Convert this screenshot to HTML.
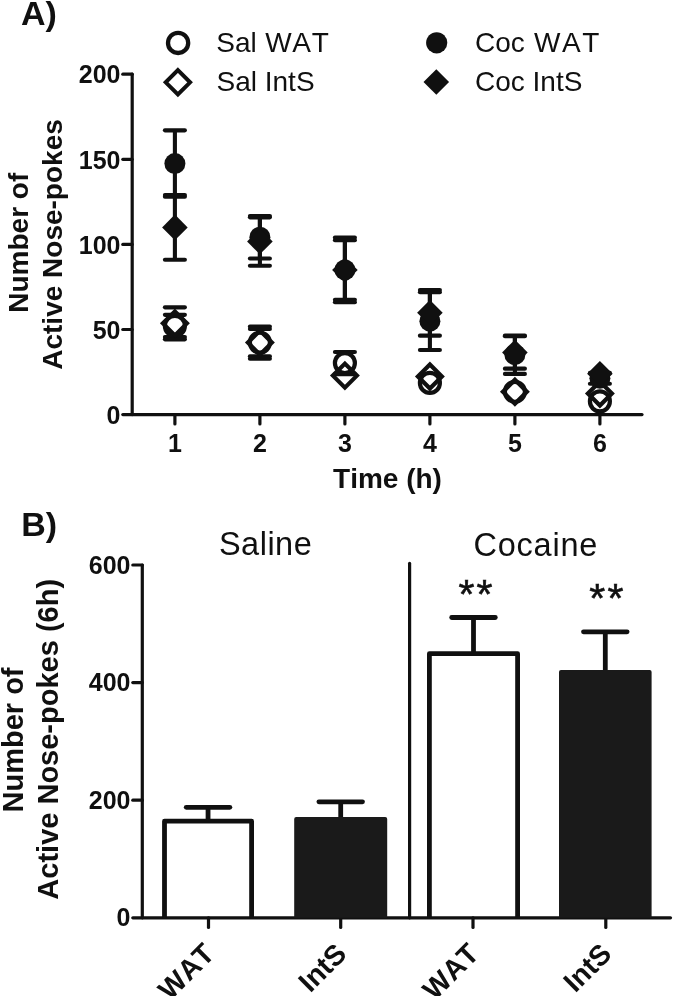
<!DOCTYPE html>
<html><head><meta charset="utf-8"><style>
html,body{margin:0;padding:0;background:#fff;}
svg{display:block;will-change:transform;}
text{font-family:"Liberation Sans", sans-serif;fill:#101010;font-kerning:none;}
</style></head><body>
<svg width="675" height="996" viewBox="0 0 675 996">
<rect width="675" height="996" fill="#fff"/>
<text x="21" y="25" font-size="34" font-weight="bold">A)</text>
<circle cx="178.1" cy="42.9" r="10.1" fill="none" stroke="#101010" stroke-width="4.3"/>
<path d="M177.90,70.10 L190.10,82.30 L177.90,94.50 L165.70,82.30 Z" fill="none" stroke="#101010" stroke-width="4.0" stroke-linejoin="miter"/>
<text x="216.3" y="51.6" font-size="28">Sal<tspan letter-spacing="0.7"> WAT</tspan></text>
<text x="216.5" y="91" font-size="28">Sal IntS</text>
<circle cx="436.7" cy="42.8" r="10.6" fill="#101010"/>
<path d="M436.30,69.20 L449.10,82.00 L436.30,94.80 L423.50,82.00 Z" fill="#101010" stroke="none"/>
<text x="475" y="51.6" font-size="28">Coc<tspan letter-spacing="1.5"> WAT</tspan></text>
<text x="475" y="91" font-size="28">Coc IntS</text>
<g stroke="#101010" stroke-width="3.2" fill="none" stroke-linecap="round">
<line x1="132.2" y1="74.2" x2="132.2" y2="414.6"/>
<line x1="122.8" y1="414.6" x2="642" y2="414.6"/>
<line x1="122.8" y1="74.20" x2="132.2" y2="74.20"/>
<line x1="122.8" y1="159.30" x2="132.2" y2="159.30"/>
<line x1="122.8" y1="244.40" x2="132.2" y2="244.40"/>
<line x1="122.8" y1="329.50" x2="132.2" y2="329.50"/>
<line x1="174.9" y1="414.6" x2="174.9" y2="424"/>
<line x1="259.9" y1="414.6" x2="259.9" y2="424"/>
<line x1="344.9" y1="414.6" x2="344.9" y2="424"/>
<line x1="429.9" y1="414.6" x2="429.9" y2="424"/>
<line x1="514.9" y1="414.6" x2="514.9" y2="424"/>
<line x1="599.9" y1="414.6" x2="599.9" y2="424"/>
</g>
<g font-size="25" font-weight="bold" text-anchor="end">
<text x="120.5" y="83.40">200</text>
<text x="120.5" y="168.50">150</text>
<text x="120.5" y="253.60">100</text>
<text x="120.5" y="338.70">50</text>
<text x="120.5" y="423.80">0</text>
</g>
<g font-size="25" font-weight="bold" text-anchor="middle">
<text x="174.9" y="451.6">1</text>
<text x="259.9" y="451.6">2</text>
<text x="344.9" y="451.6">3</text>
<text x="429.9" y="451.6">4</text>
<text x="514.9" y="451.6">5</text>
<text x="599.9" y="451.6">6</text>
</g>
<text x="387.5" y="488.2" font-size="28" font-weight="bold" text-anchor="middle">Time (h)</text>
<g font-size="28" font-weight="bold" text-anchor="middle">
<text transform="translate(28.4,242.7) rotate(-90)">Number of</text>
<text transform="translate(61.6,244.5) rotate(-90)">Active Nose-pokes</text>
</g>
<g stroke="#101010" stroke-width="4.1" fill="none">
<line x1="164.9" y1="314.86" x2="184.9" y2="314.86" stroke-linecap="round"/>
<line x1="164.9" y1="336.99" x2="184.9" y2="336.99" stroke-linecap="round"/>
<line x1="174.9" y1="308.87" x2="174.9" y2="307.37"/>
<line x1="174.9" y1="337.87" x2="174.9" y2="339.37"/>
<line x1="164.9" y1="307.37" x2="184.9" y2="307.37" stroke-linecap="round"/>
<line x1="164.9" y1="339.37" x2="184.9" y2="339.37" stroke-linecap="round"/>
<line x1="259.9" y1="330.51" x2="259.9" y2="326.44"/>
<line x1="259.9" y1="354.71" x2="259.9" y2="358.77"/>
<line x1="249.89999999999998" y1="326.44" x2="269.9" y2="326.44" stroke-linecap="round"/>
<line x1="249.89999999999998" y1="358.77" x2="269.9" y2="358.77" stroke-linecap="round"/>
<line x1="249.89999999999998" y1="328.99" x2="269.9" y2="328.99" stroke-linecap="round"/>
<line x1="249.89999999999998" y1="356.22" x2="269.9" y2="356.22" stroke-linecap="round"/>
<line x1="334.9" y1="351.97" x2="354.9" y2="351.97" stroke-linecap="round"/>
<line x1="334.9" y1="374.09" x2="354.9" y2="374.09" stroke-linecap="round"/>







</g>
<circle cx="174.9" cy="325.93" r="10.0" fill="none" stroke="#101010" stroke-width="4.2"/>
<path d="M174.90,311.37 L186.90,323.37 L174.90,335.37 L162.90,323.37 Z" fill="none" stroke="#101010" stroke-width="4.2" stroke-linejoin="miter"/>
<circle cx="259.9" cy="342.61" r="10.0" fill="none" stroke="#101010" stroke-width="4.2"/>
<path d="M259.90,330.61 L271.90,342.61 L259.90,354.61 L247.90,342.61 Z" fill="none" stroke="#101010" stroke-width="4.2" stroke-linejoin="miter"/>
<circle cx="344.9" cy="363.03" r="10.0" fill="none" stroke="#101010" stroke-width="4.2"/>
<path d="M344.90,363.62 L356.90,375.62 L344.90,387.62 L332.90,375.62 Z" fill="none" stroke="#101010" stroke-width="4.2" stroke-linejoin="miter"/>
<circle cx="429.9" cy="382.94" r="10.0" fill="none" stroke="#101010" stroke-width="4.2"/>
<path d="M429.90,364.48 L441.90,376.48 L429.90,388.48 L417.90,376.48 Z" fill="none" stroke="#101010" stroke-width="4.2" stroke-linejoin="miter"/>
<circle cx="514.9" cy="391.79" r="10.0" fill="none" stroke="#101010" stroke-width="4.2"/>
<path d="M514.90,379.79 L526.90,391.79 L514.90,403.79 L502.90,391.79 Z" fill="none" stroke="#101010" stroke-width="4.2" stroke-linejoin="miter"/>
<circle cx="599.9" cy="401.32" r="10.0" fill="none" stroke="#101010" stroke-width="4.2"/>
<path d="M599.90,381.50 L611.90,393.50 L599.90,405.50 L587.90,393.50 Z" fill="none" stroke="#101010" stroke-width="4.2" stroke-linejoin="miter"/>
<g stroke="#101010" stroke-width="4.1" fill="none">
<line x1="174.9" y1="163.56" x2="174.9" y2="130.37"/>
<line x1="174.9" y1="163.56" x2="174.9" y2="196.74"/>
<line x1="164.9" y1="130.37" x2="184.9" y2="130.37" stroke-linecap="round"/>
<line x1="164.9" y1="196.74" x2="184.9" y2="196.74" stroke-linecap="round"/>
<line x1="174.9" y1="227.38" x2="174.9" y2="195.04"/>
<line x1="174.9" y1="227.38" x2="174.9" y2="259.72"/>
<line x1="164.9" y1="195.04" x2="184.9" y2="195.04" stroke-linecap="round"/>
<line x1="164.9" y1="259.72" x2="184.9" y2="259.72" stroke-linecap="round"/>
<line x1="259.9" y1="237.25" x2="259.9" y2="215.98"/>
<line x1="259.9" y1="237.25" x2="259.9" y2="258.53"/>
<line x1="249.89999999999998" y1="215.98" x2="269.9" y2="215.98" stroke-linecap="round"/>
<line x1="249.89999999999998" y1="258.53" x2="269.9" y2="258.53" stroke-linecap="round"/>
<line x1="259.9" y1="241.51" x2="259.9" y2="217.34"/>
<line x1="259.9" y1="241.51" x2="259.9" y2="265.68"/>
<line x1="249.89999999999998" y1="217.34" x2="269.9" y2="217.34" stroke-linecap="round"/>
<line x1="249.89999999999998" y1="265.68" x2="269.9" y2="265.68" stroke-linecap="round"/>
<line x1="344.9" y1="269.93" x2="344.9" y2="237.59"/>
<line x1="344.9" y1="269.93" x2="344.9" y2="302.27"/>
<line x1="334.9" y1="237.59" x2="354.9" y2="237.59" stroke-linecap="round"/>
<line x1="334.9" y1="302.27" x2="354.9" y2="302.27" stroke-linecap="round"/>
<line x1="344.9" y1="269.93" x2="344.9" y2="240.15"/>
<line x1="344.9" y1="269.93" x2="344.9" y2="299.72"/>
<line x1="334.9" y1="240.15" x2="354.9" y2="240.15" stroke-linecap="round"/>
<line x1="334.9" y1="299.72" x2="354.9" y2="299.72" stroke-linecap="round"/>
<line x1="429.9" y1="321.16" x2="429.9" y2="292.31"/>
<line x1="429.9" y1="321.16" x2="429.9" y2="350.01"/>
<line x1="419.9" y1="292.31" x2="439.9" y2="292.31" stroke-linecap="round"/>
<line x1="419.9" y1="350.01" x2="439.9" y2="350.01" stroke-linecap="round"/>
<line x1="429.9" y1="312.82" x2="429.9" y2="290.01"/>
<line x1="429.9" y1="312.82" x2="429.9" y2="335.63"/>
<line x1="419.9" y1="290.01" x2="439.9" y2="290.01" stroke-linecap="round"/>
<line x1="419.9" y1="335.63" x2="439.9" y2="335.63" stroke-linecap="round"/>
<line x1="514.9" y1="354.69" x2="514.9" y2="335.46"/>
<line x1="514.9" y1="354.69" x2="514.9" y2="373.92"/>
<line x1="504.9" y1="335.46" x2="524.9" y2="335.46" stroke-linecap="round"/>
<line x1="504.9" y1="373.92" x2="524.9" y2="373.92" stroke-linecap="round"/>
<line x1="514.9" y1="352.48" x2="514.9" y2="336.31"/>
<line x1="514.9" y1="352.48" x2="514.9" y2="368.65"/>
<line x1="504.9" y1="336.31" x2="524.9" y2="336.31" stroke-linecap="round"/>
<line x1="504.9" y1="368.65" x2="524.9" y2="368.65" stroke-linecap="round"/>
<line x1="599.9" y1="378.35" x2="599.9" y2="372.90"/>
<line x1="599.9" y1="378.35" x2="599.9" y2="383.79"/>
<line x1="589.9" y1="372.90" x2="609.9" y2="372.90" stroke-linecap="round"/>
<line x1="589.9" y1="383.79" x2="609.9" y2="383.79" stroke-linecap="round"/>

</g>
<circle cx="174.9" cy="163.56" r="10.5" fill="#101010" stroke="none"/>
<path d="M174.90,214.58 L187.70,227.38 L174.90,240.18 L162.10,227.38 Z" fill="#101010" stroke="none"/>
<circle cx="259.9" cy="237.25" r="10.5" fill="#101010" stroke="none"/>
<path d="M259.90,228.71 L272.70,241.51 L259.90,254.31 L247.10,241.51 Z" fill="#101010" stroke="none"/>
<circle cx="344.9" cy="269.93" r="10.5" fill="#101010" stroke="none"/>
<path d="M344.90,257.13 L357.70,269.93 L344.90,282.73 L332.10,269.93 Z" fill="#101010" stroke="none"/>
<circle cx="429.9" cy="321.16" r="10.5" fill="#101010" stroke="none"/>
<path d="M429.90,300.02 L442.70,312.82 L429.90,325.62 L417.10,312.82 Z" fill="#101010" stroke="none"/>
<circle cx="514.9" cy="354.69" r="10.5" fill="#101010" stroke="none"/>
<path d="M514.90,339.68 L527.70,352.48 L514.90,365.28 L502.10,352.48 Z" fill="#101010" stroke="none"/>
<circle cx="599.9" cy="378.35" r="10.5" fill="#101010" stroke="none"/>
<path d="M599.90,360.95 L612.70,373.75 L599.90,386.55 L587.10,373.75 Z" fill="#101010" stroke="none"/>
<text x="21.3" y="536" font-size="34" font-weight="bold">B)</text>
<text x="265.6" y="555.3" font-size="32.5" letter-spacing="0.5" text-anchor="middle">Saline</text>
<text x="535.8" y="556" font-size="32.5" letter-spacing="0.8" text-anchor="middle">Cocaine</text>
<g stroke="#101010" stroke-width="3.2" fill="none" stroke-linecap="round">
<line x1="142.3" y1="565.0" x2="142.3" y2="917.8"/>
<line x1="132.8" y1="917.8" x2="670.5" y2="917.8"/>
<line x1="132.8" y1="565.00" x2="142.3" y2="565.00"/>
<line x1="132.8" y1="682.60" x2="142.3" y2="682.60"/>
<line x1="132.8" y1="800.20" x2="142.3" y2="800.20"/>
<line x1="208.5" y1="917.8" x2="208.5" y2="927.5"/>
<line x1="340.7" y1="917.8" x2="340.7" y2="927.5"/>
<line x1="473.0" y1="917.8" x2="473.0" y2="927.5"/>
<line x1="605.8" y1="917.8" x2="605.8" y2="927.5"/>
<line x1="409.6" y1="563.4" x2="409.6" y2="917.8" stroke-width="3.2" stroke-linecap="round"/>
</g>
<g font-size="25" font-weight="bold" text-anchor="end">
<text x="130.5" y="573.60">600</text>
<text x="130.5" y="691.20">400</text>
<text x="130.5" y="808.80">200</text>
<text x="130.5" y="926.40">0</text>
</g>
<g font-size="29" font-weight="bold" text-anchor="middle">
<text transform="translate(22.5,740) rotate(-90)">Number of</text>
<text transform="translate(57.7,739.3) rotate(-90)">Active Nose-pokes (6h)</text>
</g>
<line x1="208.05" y1="807.3" x2="208.05" y2="819.8" stroke="#101010" stroke-width="4.8"/>
<line x1="186.25" y1="807.3" x2="229.85" y2="807.3" stroke="#101010" stroke-width="4.8" stroke-linecap="round"/>
<path d="M164.50,917.8 L164.50,821.20 L251.60,821.20 L251.60,917.8" fill="none" stroke="#101010" stroke-width="4.8" stroke-linejoin="round"/>
<line x1="340.70" y1="801.8" x2="340.70" y2="818.0" stroke="#101010" stroke-width="4.8"/>
<line x1="318.90" y1="801.8" x2="362.50" y2="801.8" stroke="#101010" stroke-width="4.8" stroke-linecap="round"/>
<path d="M294.2,917.8 L294.2,819.0 Q294.2,817.0 296.2,817.0 L385.2,817.0 Q387.2,817.0 387.2,819.0 L387.2,917.8 Z" fill="#1a1a1a"/>
<line x1="473.50" y1="617.5" x2="473.50" y2="652.3" stroke="#101010" stroke-width="4.8"/>
<line x1="451.70" y1="617.5" x2="495.30" y2="617.5" stroke="#101010" stroke-width="4.8" stroke-linecap="round"/>
<path d="M429.40,917.8 L429.40,653.70 L517.60,653.70 L517.60,917.8" fill="none" stroke="#101010" stroke-width="4.8" stroke-linejoin="round"/>
<line x1="605.30" y1="631.8" x2="605.30" y2="671.0" stroke="#101010" stroke-width="4.8"/>
<line x1="583.50" y1="631.8" x2="627.10" y2="631.8" stroke="#101010" stroke-width="4.8" stroke-linecap="round"/>
<path d="M559.0,917.8 L559.0,672.0 Q559.0,670.0 561.0,670.0 L649.6,670.0 Q651.6,670.0 651.6,672.0 L651.6,917.8 Z" fill="#1a1a1a"/>
<text x="476.6" y="608.2" font-size="41" letter-spacing="2.2" stroke="#101010" stroke-width="0.6" text-anchor="middle">**</text>
<text x="607.4" y="612.2" font-size="41" letter-spacing="2.2" stroke="#101010" stroke-width="0.6" text-anchor="middle">**</text>
<g font-size="28.5" font-weight="bold" text-anchor="end">
<text transform="translate(216.0,955.5) rotate(-45)">WAT</text>
<text transform="translate(348.2,955.5) rotate(-45)">IntS</text>
<text transform="translate(480.5,955.5) rotate(-45)">WAT</text>
<text transform="translate(613.3,955.5) rotate(-45)">IntS</text>
</g>
</svg>
</body></html>
